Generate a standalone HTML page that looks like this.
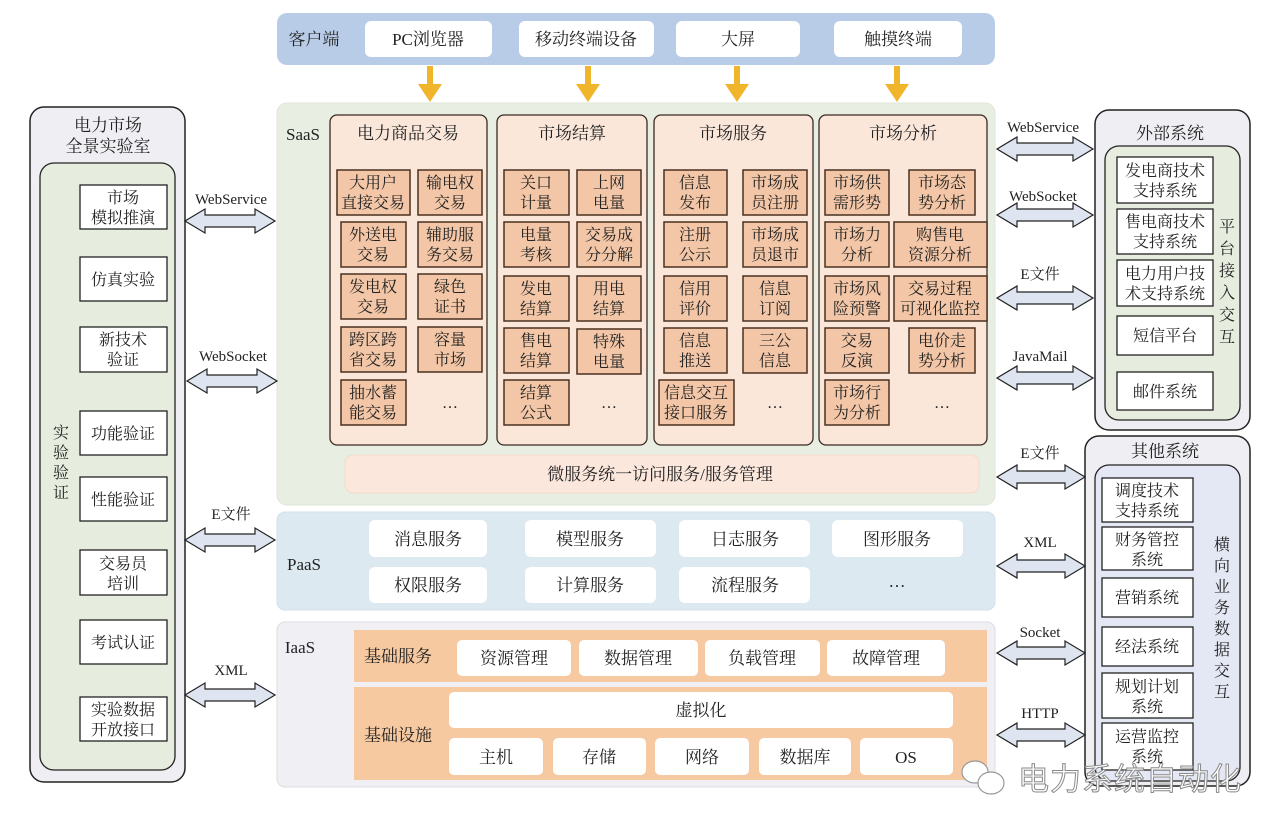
<!DOCTYPE html>
<html><head><meta charset="utf-8"><style>
html,body{margin:0;padding:0;background:#fff;}
svg{display:block;}
text{font-family:"Liberation Serif","Noto Serif CJK SC","Noto Sans CJK SC",serif;fill:#222;}
.t{font-size:16px;text-anchor:middle;}
.h{font-size:17px;text-anchor:middle;}
.ib{fill:#f2c6a6;stroke:#4a3020;stroke-width:1.5;}
.wb{fill:#fff;stroke:#222;stroke-width:1.3;}
.rb{fill:#fff;}
.ar{fill:#dfe5f0;stroke:#222;stroke-width:1.2;}
.lbl{font-size:15px;text-anchor:middle;}
</style></head><body>
<svg width="1280" height="834" viewBox="0 0 1280 834" xmlns="http://www.w3.org/2000/svg">
<!-- client bar -->
<rect x="277" y="13" width="718" height="52" rx="10" fill="#b9cce7"/>
<text x="314" y="45" class="h">客户端</text>
<rect class="rb" x="365" y="21" width="127" height="36" rx="6"/><text x="428" y="45" class="h">PC浏览器</text>
<rect class="rb" x="519" y="21" width="135" height="36" rx="6"/><text x="586" y="45" class="h">移动终端设备</text>
<rect class="rb" x="676" y="21" width="124" height="36" rx="6"/><text x="738" y="45" class="h">大屏</text>
<rect class="rb" x="834" y="21" width="128" height="36" rx="6"/><text x="898" y="45" class="h">触摸终端</text>
<g fill="#f1b52c">
<rect x="427" y="66" width="6" height="22"/><polygon points="418,84 442,84 430,102"/>
<rect x="585" y="66" width="6" height="22"/><polygon points="576,84 600,84 588,102"/>
<rect x="734" y="66" width="6" height="22"/><polygon points="725,84 749,84 737,102"/>
<rect x="894" y="66" width="6" height="22"/><polygon points="885,84 909,84 897,102"/>
</g>
<!-- SaaS -->
<rect x="277" y="103" width="718" height="402" rx="10" fill="#e8eee2" stroke="#dfe5d8"/>
<text x="303" y="140" class="h">SaaS</text>
<g fill="#fbe7da" stroke="#3a2a20" stroke-width="1.3">
<rect x="330" y="115" width="157" height="330" rx="7"/>
<rect x="497" y="115" width="150" height="330" rx="7"/>
<rect x="654" y="115" width="159" height="330" rx="7"/>
<rect x="819" y="115" width="168" height="330" rx="7"/>
</g>
<text x="408" y="139" class="h">电力商品交易</text>
<text x="572" y="139" class="h">市场结算</text>
<text x="733" y="139" class="h">市场服务</text>
<text x="903" y="139" class="h">市场分析</text>
<g>
<!-- col1 -->
<rect class="ib" x="337" y="170" width="73" height="45"/><text class="t" x="373" y="188">大用户</text><text class="t" x="373" y="208">直接交易</text>
<rect class="ib" x="418" y="170" width="64" height="45"/><text class="t" x="450" y="188">输电权</text><text class="t" x="450" y="208">交易</text>
<rect class="ib" x="341" y="222" width="65" height="45"/><text class="t" x="373" y="240">外送电</text><text class="t" x="373" y="260">交易</text>
<rect class="ib" x="418" y="222" width="64" height="45"/><text class="t" x="450" y="240">辅助服</text><text class="t" x="450" y="260">务交易</text>
<rect class="ib" x="341" y="274" width="65" height="45"/><text class="t" x="373" y="292">发电权</text><text class="t" x="373" y="312">交易</text>
<rect class="ib" x="418" y="274" width="64" height="45"/><text class="t" x="450" y="292">绿色</text><text class="t" x="450" y="312">证书</text>
<rect class="ib" x="341" y="327" width="65" height="45"/><text class="t" x="373" y="345">跨区跨</text><text class="t" x="373" y="365">省交易</text>
<rect class="ib" x="418" y="327" width="64" height="45"/><text class="t" x="450" y="345">容量</text><text class="t" x="450" y="365">市场</text>
<rect class="ib" x="341" y="380" width="65" height="45"/><text class="t" x="373" y="398">抽水蓄</text><text class="t" x="373" y="418">能交易</text>
<text class="t" x="450" y="408">…</text>
<!-- col2 -->
<rect class="ib" x="504" y="170" width="65" height="45"/><text class="t" x="536" y="188">关口</text><text class="t" x="536" y="208">计量</text>
<rect class="ib" x="577" y="170" width="64" height="45"/><text class="t" x="609" y="188">上网</text><text class="t" x="609" y="208">电量</text>
<rect class="ib" x="504" y="222" width="65" height="45"/><text class="t" x="536" y="240">电量</text><text class="t" x="536" y="260">考核</text>
<rect class="ib" x="577" y="222" width="64" height="45"/><text class="t" x="609" y="240">交易成</text><text class="t" x="609" y="260">分分解</text>
<rect class="ib" x="504" y="276" width="65" height="45"/><text class="t" x="536" y="294">发电</text><text class="t" x="536" y="314">结算</text>
<rect class="ib" x="577" y="276" width="64" height="45"/><text class="t" x="609" y="294">用电</text><text class="t" x="609" y="314">结算</text>
<rect class="ib" x="504" y="328" width="65" height="45"/><text class="t" x="536" y="346">售电</text><text class="t" x="536" y="366">结算</text>
<rect class="ib" x="577" y="329" width="64" height="45"/><text class="t" x="609" y="347">特殊</text><text class="t" x="609" y="367">电量</text>
<rect class="ib" x="504" y="380" width="65" height="45"/><text class="t" x="536" y="398">结算</text><text class="t" x="536" y="418">公式</text>
<text class="t" x="609" y="408">…</text>
<!-- col3 -->
<rect class="ib" x="664" y="170" width="63" height="45"/><text class="t" x="695" y="188">信息</text><text class="t" x="695" y="208">发布</text>
<rect class="ib" x="743" y="170" width="64" height="45"/><text class="t" x="775" y="188">市场成</text><text class="t" x="775" y="208">员注册</text>
<rect class="ib" x="664" y="222" width="63" height="45"/><text class="t" x="695" y="240">注册</text><text class="t" x="695" y="260">公示</text>
<rect class="ib" x="743" y="222" width="64" height="45"/><text class="t" x="775" y="240">市场成</text><text class="t" x="775" y="260">员退市</text>
<rect class="ib" x="664" y="276" width="63" height="45"/><text class="t" x="695" y="294">信用</text><text class="t" x="695" y="314">评价</text>
<rect class="ib" x="743" y="276" width="64" height="45"/><text class="t" x="775" y="294">信息</text><text class="t" x="775" y="314">订阅</text>
<rect class="ib" x="664" y="328" width="63" height="45"/><text class="t" x="695" y="346">信息</text><text class="t" x="695" y="366">推送</text>
<rect class="ib" x="743" y="328" width="64" height="45"/><text class="t" x="775" y="346">三公</text><text class="t" x="775" y="366">信息</text>
<rect class="ib" x="659" y="380" width="75" height="45"/><text class="t" x="696" y="398">信息交互</text><text class="t" x="696" y="418">接口服务</text>
<text class="t" x="775" y="408">…</text>
<!-- col4 -->
<rect class="ib" x="825" y="170" width="64" height="45"/><text class="t" x="857" y="188">市场供</text><text class="t" x="857" y="208">需形势</text>
<rect class="ib" x="909" y="170" width="66" height="45"/><text class="t" x="942" y="188">市场态</text><text class="t" x="942" y="208">势分析</text>
<rect class="ib" x="825" y="222" width="64" height="45"/><text class="t" x="857" y="240">市场力</text><text class="t" x="857" y="260">分析</text>
<rect class="ib" x="894" y="222" width="93" height="45"/><text class="t" x="940" y="240">购售电</text><text class="t" x="940" y="260">资源分析</text>
<rect class="ib" x="825" y="276" width="64" height="45"/><text class="t" x="857" y="294">市场风</text><text class="t" x="857" y="314">险预警</text>
<rect class="ib" x="894" y="276" width="93" height="45"/><text class="t" x="940" y="294">交易过程</text><text class="t" x="940" y="314">可视化监控</text>
<rect class="ib" x="825" y="328" width="64" height="45"/><text class="t" x="857" y="346">交易</text><text class="t" x="857" y="366">反演</text>
<rect class="ib" x="909" y="328" width="66" height="45"/><text class="t" x="942" y="346">电价走</text><text class="t" x="942" y="366">势分析</text>
<rect class="ib" x="825" y="380" width="64" height="45"/><text class="t" x="857" y="398">市场行</text><text class="t" x="857" y="418">为分析</text>
<text class="t" x="942" y="408">…</text>
</g>
<rect x="345" y="455" width="634" height="38" rx="8" fill="#fbe7dc" stroke="#efdccd"/>
<text x="660" y="480" class="h">微服务统一访问服务/服务管理</text>
<!-- PaaS -->
<rect x="277" y="512" width="718" height="98" rx="8" fill="#dde9f1" stroke="#d2e0ea"/>
<text x="304" y="570" class="h">PaaS</text>
<g class="rb">
<rect x="369" y="520" width="118" height="37" rx="6"/><rect x="525" y="520" width="131" height="37" rx="6"/><rect x="679" y="520" width="131" height="37" rx="6"/><rect x="832" y="520" width="131" height="37" rx="6"/>
<rect x="369" y="567" width="118" height="36" rx="6"/><rect x="525" y="567" width="131" height="36" rx="6"/><rect x="679" y="567" width="131" height="36" rx="6"/>
</g>
<text class="h" x="428" y="545">消息服务</text><text class="h" x="590" y="545">模型服务</text><text class="h" x="745" y="545">日志服务</text><text class="h" x="897" y="545">图形服务</text>
<text class="h" x="428" y="591">权限服务</text><text class="h" x="590" y="591">计算服务</text><text class="h" x="745" y="591">流程服务</text><text class="h" x="897" y="587">…</text>
<!-- IaaS -->
<rect x="277" y="622" width="718" height="165" rx="8" fill="#efeff4" stroke="#dcdce2"/>
<text x="300" y="653" class="h">IaaS</text>
<rect x="354" y="630" width="633" height="52" fill="#f7c9a0"/>
<rect x="354" y="687" width="633" height="93" fill="#f7c9a0"/>
<text x="398" y="662" class="h">基础服务</text>
<text x="398" y="741" class="h">基础设施</text>
<g class="rb">
<rect x="457" y="640" width="114" height="36" rx="5"/><rect x="579" y="640" width="119" height="36" rx="5"/><rect x="705" y="640" width="115" height="36" rx="5"/><rect x="827" y="640" width="118" height="36" rx="5"/>
<rect x="449" y="692" width="504" height="36" rx="5"/>
<rect x="449" y="738" width="94" height="37" rx="5"/><rect x="553" y="738" width="93" height="37" rx="5"/><rect x="655" y="738" width="94" height="37" rx="5"/><rect x="759" y="738" width="92" height="37" rx="5"/><rect x="860" y="738" width="93" height="37" rx="5"/>
</g>
<text class="h" x="514" y="664">资源管理</text><text class="h" x="638" y="664">数据管理</text><text class="h" x="762" y="664">负载管理</text><text class="h" x="886" y="664">故障管理</text>
<text class="h" x="701" y="716">虚拟化</text>
<text class="h" x="496" y="763">主机</text><text class="h" x="599" y="763">存储</text><text class="h" x="702" y="763">网络</text><text class="h" x="805" y="763">数据库</text><text class="h" x="906" y="763">OS</text>
<!-- left panel -->
<rect x="30" y="107" width="155" height="675" rx="14" fill="#efeff3" stroke="#222" stroke-width="1.5"/>
<text class="h" x="108" y="131">电力市场</text><text class="h" x="108" y="152">全景实验室</text>
<rect x="40" y="163" width="135" height="607" rx="14" fill="#e6edde" stroke="#222" stroke-width="1.3"/>
<g class="wb">
<rect x="80" y="185" width="87" height="44"/><rect x="80" y="257" width="87" height="44"/><rect x="80" y="327" width="87" height="45"/><rect x="80" y="411" width="87" height="44"/><rect x="80" y="477" width="87" height="44"/><rect x="80" y="550" width="87" height="45"/><rect x="80" y="620" width="87" height="44"/><rect x="80" y="697" width="87" height="44"/>
</g>
<text class="t" x="123" y="203">市场</text><text class="t" x="123" y="223">模拟推演</text>
<text class="t" x="123" y="285">仿真实验</text>
<text class="t" x="123" y="345">新技术</text><text class="t" x="123" y="365">验证</text>
<text class="t" x="123" y="439">功能验证</text>
<text class="t" x="123" y="505">性能验证</text>
<text class="t" x="123" y="569">交易员</text><text class="t" x="123" y="589">培训</text>
<text class="t" x="123" y="648">考试认证</text>
<text class="t" x="123" y="715">实验数据</text><text class="t" x="123" y="735">开放接口</text>
<text class="t" x="61" y="438">实</text><text class="t" x="61" y="458">验</text><text class="t" x="61" y="478">验</text><text class="t" x="61" y="498">证</text>
<!-- external systems -->
<rect x="1095" y="110" width="155" height="320" rx="14" fill="#efeff3" stroke="#222" stroke-width="1.5"/>
<text class="h" x="1170" y="139">外部系统</text>
<rect x="1105" y="146" width="135" height="274" rx="14" fill="#e6edde" stroke="#222" stroke-width="1.3"/>
<g class="wb">
<rect x="1117" y="157" width="96" height="46"/><rect x="1117" y="209" width="96" height="45"/><rect x="1117" y="260" width="96" height="46"/><rect x="1117" y="316" width="96" height="39"/><rect x="1117" y="372" width="96" height="38"/>
</g>
<text class="t" x="1165" y="176">发电商技术</text><text class="t" x="1165" y="196">支持系统</text>
<text class="t" x="1165" y="227">售电商技术</text><text class="t" x="1165" y="247">支持系统</text>
<text class="t" x="1165" y="279">电力用户技</text><text class="t" x="1165" y="299">术支持系统</text>
<text class="t" x="1165" y="341">短信平台</text>
<text class="t" x="1165" y="397">邮件系统</text>
<g class="t"><text x="1227" y="232">平</text><text x="1227" y="254">台</text><text x="1227" y="276">接</text><text x="1227" y="298">入</text><text x="1227" y="320">交</text><text x="1227" y="342">互</text></g>
<!-- other systems -->
<rect x="1085" y="436" width="165" height="350" rx="14" fill="#efeff3" stroke="#222" stroke-width="1.5"/>
<text class="h" x="1165" y="457">其他系统</text>
<rect x="1095" y="465" width="145" height="316" rx="14" fill="#e4e8f4" stroke="#222" stroke-width="1.3"/>
<g class="wb">
<rect x="1102" y="478" width="91" height="44"/><rect x="1102" y="527" width="91" height="43"/><rect x="1102" y="578" width="91" height="39"/><rect x="1102" y="627" width="91" height="39"/><rect x="1102" y="673" width="91" height="45"/><rect x="1102" y="723" width="91" height="47"/>
</g>
<text class="t" x="1147" y="496">调度技术</text><text class="t" x="1147" y="516">支持系统</text>
<text class="t" x="1147" y="545">财务管控</text><text class="t" x="1147" y="565">系统</text>
<text class="t" x="1147" y="603">营销系统</text>
<text class="t" x="1147" y="652">经法系统</text>
<text class="t" x="1147" y="692">规划计划</text><text class="t" x="1147" y="712">系统</text>
<text class="t" x="1147" y="742">运营监控</text><text class="t" x="1147" y="762">系统</text>
<g class="t"><text x="1222" y="550">横</text><text x="1222" y="571">向</text><text x="1222" y="592">业</text><text x="1222" y="613">务</text><text x="1222" y="634">数</text><text x="1222" y="655">据</text><text x="1222" y="676">交</text><text x="1222" y="697">互</text></g>
<!-- arrows left -->
<g class="ar">
<polygon points="185,221 205,209 205,215 255,215 255,209 275,221 255,233 255,227 205,227 205,233"/>
<polygon points="187,381 207,369 207,375 257,375 257,369 277,381 257,393 257,387 207,387 207,393"/>
<polygon points="185,540 205,528 205,534 255,534 255,528 275,540 255,552 255,546 205,546 205,552"/>
<polygon points="185,695 205,683 205,689 255,689 255,683 275,695 255,707 255,701 205,701 205,707"/>
<!-- right -->
<polygon points="997,149 1017,137 1017,143 1073,143 1073,137 1093,149 1073,161 1073,155 1017,155 1017,161"/>
<polygon points="997,215 1017,203 1017,209 1073,209 1073,203 1093,215 1073,227 1073,221 1017,221 1017,227"/>
<polygon points="997,298 1017,286 1017,292 1073,292 1073,286 1093,298 1073,310 1073,304 1017,304 1017,310"/>
<polygon points="997,378 1017,366 1017,372 1073,372 1073,366 1093,378 1073,390 1073,384 1017,384 1017,390"/>
<polygon points="997,477 1017,465 1017,471 1065,471 1065,465 1085,477 1065,489 1065,483 1017,483 1017,489"/>
<polygon points="997,566 1017,554 1017,560 1065,560 1065,554 1085,566 1065,578 1065,572 1017,572 1017,578"/>
<polygon points="997,653 1017,641 1017,647 1065,647 1065,641 1085,653 1065,665 1065,659 1017,659 1017,665"/>
<polygon points="997,735 1017,723 1017,729 1065,729 1065,723 1085,735 1065,747 1065,741 1017,741 1017,747"/>
</g>
<g class="lbl">
<text x="231" y="204">WebService</text><text x="233" y="361">WebSocket</text><text x="231" y="519">E文件</text><text x="231" y="675">XML</text>
<text x="1043" y="132">WebService</text><text x="1043" y="201">WebSocket</text><text x="1040" y="279">E文件</text><text x="1040" y="361">JavaMail</text>
<text x="1040" y="458">E文件</text><text x="1040" y="547">XML</text><text x="1040" y="637">Socket</text><text x="1040" y="718">HTTP</text>
</g>
<!-- watermark -->
<g fill="#fff" stroke="#999" stroke-width="1.2">
<ellipse cx="975" cy="772" rx="13" ry="11"/>
<ellipse cx="991" cy="783" rx="13" ry="11"/>
</g>
<text x="1018" y="790" style="font-family:'Noto Sans CJK SC',sans-serif;font-size:31px;fill:#fff;stroke:#8a8a8a;stroke-width:1;letter-spacing:1px">电力系统自动化</text>
</svg>
</body></html>
